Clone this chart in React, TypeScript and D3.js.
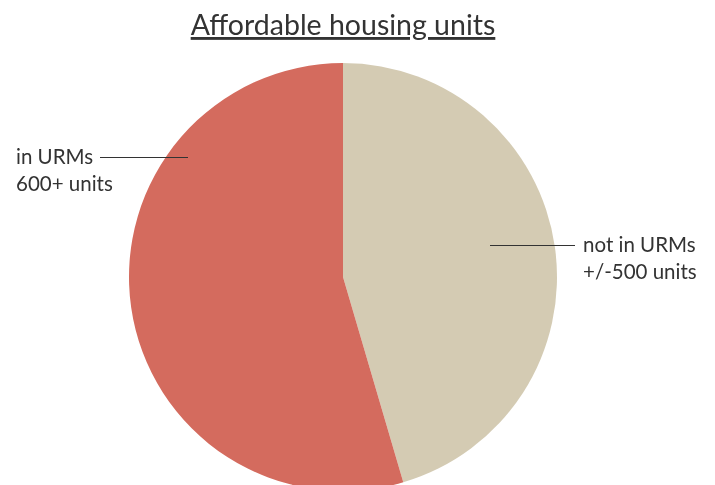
import { useEffect, useRef } from 'react';
import * as d3 from 'd3';

const categories = ['not in URMs', 'in URMs'];
const values = [500, 600];
const subLabels = ['+/-500 units', '600+ units'];
const colors = ['#d4cbb3', '#d46b5e'];

export default function App() {
  const svgRef = useRef<SVGSVGElement>(null);

  useEffect(() => {
    if (!svgRef.current) return;
    const svg = d3.select(svgRef.current);
    svg.selectAll('*').remove();

    const width = 715;
    const height = 485;
    const cx = 343;
    const cy = 277;
    const radius = 214;

    svg.attr('width', width).attr('height', height);

    // title
    svg
      .append('text')
      .attr('x', cx)
      .attr('y', 35)
      .attr('text-anchor', 'middle')
      .style('font-family', 'Lato, sans-serif')
      .style('font-size', '28.5px')
      .style('fill', '#333')
      .style('text-decoration', 'underline')
      .text('Affordable housing units');

    const pie = d3.pie<number>().sort(null).value((d) => d);
    const arc = d3.arc<d3.PieArcDatum<number>>().innerRadius(0).outerRadius(radius);

    const g = svg.append('g').attr('transform', `translate(${cx},${cy})`);
    g.selectAll('path')
      .data(pie(values))
      .enter()
      .append('path')
      .attr('d', arc)
      .attr('fill', (d, i) => colors[i]);

    // labels with leader lines
    const labelPos = [
      { x1: 490, x2: 575, y: 245.5, tx: 583 },
      { x1: 100, x2: 188, y: 157.5, tx: 16 },
    ];

    categories.forEach((c, i) => {
      const p = labelPos[i];
      svg
        .append('line')
        .attr('x1', p.x1)
        .attr('x2', p.x2)
        .attr('y1', p.y)
        .attr('y2', p.y)
        .attr('stroke', '#333')
        .attr('stroke-width', 1);
      const t = svg
        .append('text')
        .attr('x', p.tx)
        .attr('y', p.y + 6)
        .style('font-family', 'Lato, sans-serif')
        .style('font-size', '20.5px')
        .style('fill', '#333');
      t.append('tspan').attr('x', p.tx).text(c);
      t.append('tspan').attr('x', p.tx).attr('dy', 27).text(subLabels[i]);
    });
  }, []);

  return (
    <div style={{ position: 'fixed', left: 0, top: 0 }}>
      <svg ref={svgRef} style={{ display: 'block' }} />
    </div>
  );
}
